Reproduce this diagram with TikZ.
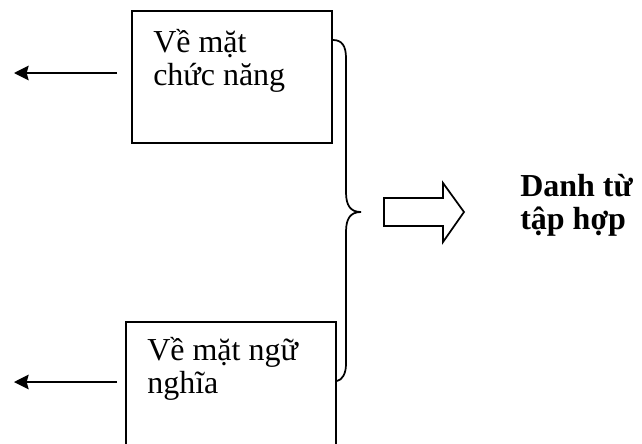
\documentclass[tikz,border=0pt]{standalone}
\usepackage{fontspec}
\setmainfont{Liberation Serif}
\usetikzlibrary{arrows.meta}
\begin{document}
\begin{tikzpicture}[x=0.75pt,y=-0.75pt,
  boxst/.style={draw=black,line width=1.4pt,inner sep=0pt,outer sep=0pt,anchor=north west},
  lbl/.style={anchor=north west,inner sep=0pt,align=left,font=\fontsize{24}{24.75}\selectfont},
  leftarr/.style={line width=1.2pt,-{Stealth[length=11pt,width=11pt,inset=1.5pt]}},
  bracest/.style={line width=1.3pt},
  blockarr/.style={line width=1.3pt,line join=miter}]
\clip (0,0) rectangle (642,443);
% boxes
\node[boxst,minimum width=150pt,minimum height=99pt] (box1) at (132,11) {};
\node[boxst,minimum width=157.5pt,minimum height=105pt] (box2) at (126,322) {};
% texts (strut height = 0.7 baselineskip)
\node[lbl] (t1) at (153,29) {\strut Về mặt\\chức năng};
\node[lbl] (t2) at (147,337.5) {\strut Về mặt ngữ\\nghĩa};
\node[lbl,font=\fontsize{24}{22.5}\selectfont\bfseries] (t3) at (520,174) {\strut Danh từ\\tập hợp};
% left arrows
\coordinate (a1s) at (117,73);
\coordinate (a1e) at (14,73);
\coordinate (a2s) at (117,382);
\coordinate (a2e) at (14,382);
\draw[leftarr] (a1s) -- (a1e);
\draw[leftarr] (a2s) -- (a2e);
% brace
\draw[bracest] (333,40) .. controls (342,40) and (346,46) .. (346,58)
  -- (346,192) .. controls (346,205) and (350,212) .. (361,212)
  .. controls (350,212) and (346,219) .. (346,232)
  -- (346,364) .. controls (346,374) and (342,380) .. (337,381);
% block arrow
\draw[blockarr] (384,198) -- (443,198) -- (443,183) -- (464,212) -- (443,242)
  -- (443,226) -- (384,226) -- cycle;
\end{tikzpicture}
\end{document}
